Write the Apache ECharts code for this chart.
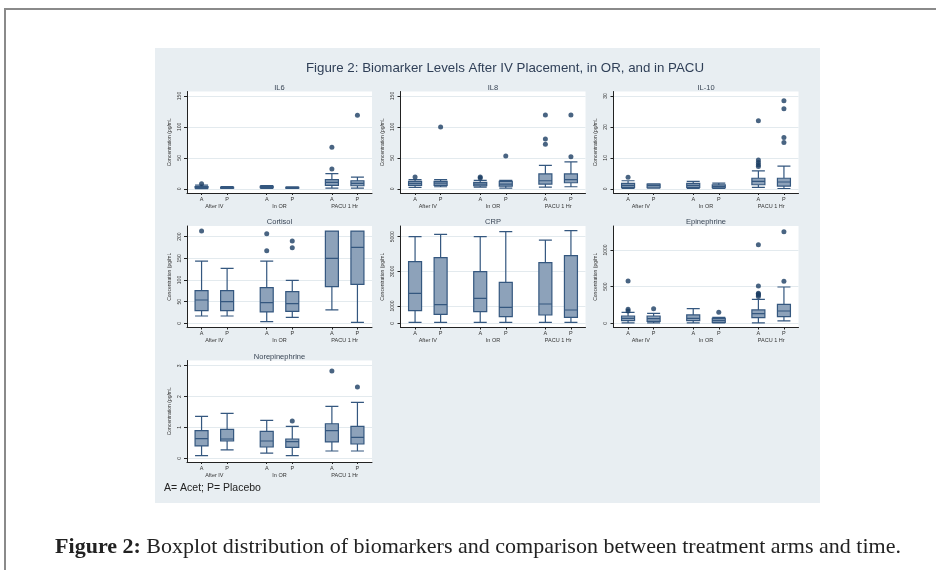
<!DOCTYPE html>
<html>
<head>
<meta charset="utf-8">
<script src="https://cdn.jsdelivr.net/npm/echarts@6/dist/echarts.min.js"></script>
<style>
  html, body { margin: 0; padding: 0; background: #fff; }
  #frame { position: absolute; left: 4px; top: 8px; width: 940px; height: 570px;
           border-top: 2px solid #8a8a8a; border-left: 2px solid #8a8a8a; }
  #chart { position: absolute; left: 0; top: 0; width: 936px; height: 570px; }
</style>
</head>
<body>
<div id="frame"></div>
<div id="chart"></div>
<script>
// categories
const arms = ["A", "P"];
const times = ["After IV", "In OR", "PACU 1 Hr"];

// boxes: [min, Q1, median, Q3, max], order A/After IV, P/After IV, A/In OR, P/In OR, A/PACU, P/PACU
// outliers: [box index, value]
const il6Box = [
  [0.3, 1.5, 2.3, 3.5, 6],
  [0.5, 1, 1.5, 2.5, 3.5],
  [0.8, 1.8, 2.8, 4, 5],
  [0.5, 1, 1.5, 2.5, 3],
  [1, 5.4, 10.3, 14.7, 24.5],
  [1, 4.9, 8.7, 13, 19],
];
const il6Out = [[0, 8], [4, 32], [4, 67], [5, 119]];
const il6Ticks = [0, 50, 100, 150];

const il8Box = [
  [2.2, 5.4, 8.7, 12, 14.7],
  [3.3, 5.4, 9.2, 12, 14.7],
  [2.7, 4.9, 7.6, 10.3, 13.6],
  [1, 4.3, 7.6, 12, 13.6],
  [2.7, 7.6, 13, 24, 38],
  [3.3, 9.8, 14.7, 24, 43.5],
];
const il8Out = [[0, 19], [1, 100], [2, 17.5], [2, 19], [3, 53], [4, 72], [4, 80.5], [4, 119.5], [5, 52], [5, 119.5]];
const il8Ticks = [0, 50, 100, 150];

const il10Box = [
  [0.1, 0.43, 1.1, 1.74, 2.6],
  [0.2, 0.33, 1.0, 1.5, 1.6],
  [0.1, 0.43, 1.1, 1.74, 2.4],
  [0.1, 0.33, 0.76, 1.3, 1.85],
  [0.43, 1.3, 2.4, 3.4, 5.8],
  [0.1, 0.87, 2.2, 3.4, 7.3],
];
const il10Out = [[0, 3.7], [4, 7.2], [4, 7.8], [4, 8.5], [4, 9.3], [4, 22], [5, 15], [5, 16.6], [5, 25.9], [5, 28.5]];
const il10Ticks = [0, 10, 20, 30];

const cortisolBox = [
  [16.9, 29.2, 53.8, 75.4, 143.8],
  [16.9, 29.2, 50, 75.4, 127],
  [3.8, 26.2, 47.7, 82.3, 143.8],
  [13.8, 27.7, 45.4, 73, 99.2],
  [30.8, 84.6, 150, 213, 213],
  [2.3, 90, 175.4, 213, 213],
];
const cortisolOut = [[0, 213], [2, 167.7], [2, 207], [3, 174.6], [3, 190]];
const cortisolTicks = [0, 50, 100, 150, 200];

const crpBox = [
  [58, 731, 1731, 3558, 5000],
  [58, 519, 1077, 3788, 5135],
  [58, 673, 1442, 2981, 5000],
  [58, 385, 923, 2365, 5288],
  [58, 481, 1115, 3500, 4808],
  [58, 346, 769, 3904, 5346],
];
const crpOut = [];
const crpTicks = [0, 1000, 3000, 5000];

const epiBox = [
  [5, 36, 68, 100, 150],
  [5, 27, 64, 100, 136],
  [5, 36, 68, 114, 200],
  [5, 14, 41, 68, 82],
  [5, 77, 132, 182, 327],
  [32, 91, 168, 259, 495],
];
const epiOut = [[0, 168], [0, 191], [0, 577], [1, 200], [3, 150], [4, 364], [4, 386], [4, 400], [4, 409], [4, 509], [4, 1073], [5, 573], [5, 1250]];
const epiTicks = [0, 500, 1000];

const norepiBox = [
  [0.086, 0.4, 0.636, 0.895, 1.36],
  [0.27, 0.56, 0.626, 0.94, 1.456],
  [0.17, 0.367, 0.561, 0.874, 1.23],
  [0.086, 0.356, 0.54, 0.626, 1.036],
  [0.237, 0.53, 0.895, 1.12, 1.68],
  [0.237, 0.464, 0.68, 1.036, 1.81],
];
const norepiOut = [[3, 1.21], [4, 2.83], [5, 2.31]];
const norepiTicks = [0, 1, 2, 3];

const panels = [
  { name: "IL6", box: il6Box, out: il6Out, ticks: il6Ticks, range: [-6.8, 157.3] },
  { name: "IL8", box: il8Box, out: il8Out, ticks: il8Ticks, range: [-6.8, 157.3] },
  { name: "IL-10", box: il10Box, out: il10Out, ticks: il10Ticks, range: [-1.36, 31.45] },
  { name: "Cortisol", box: cortisolBox, out: cortisolOut, ticks: cortisolTicks, range: [-9.7, 224.7] },
  { name: "CRP", box: crpBox, out: crpOut, ticks: crpTicks, range: [-242, 5618] },
  { name: "Epinephrine", box: epiBox, out: epiOut, ticks: epiTicks, range: [-57, 1327] },
  { name: "Norepinephrine", box: norepiBox, out: norepiOut, ticks: norepiTicks, range: [-0.12, 3.17] },
];

// layout of the Stata-like subplots
const rowTop = [91.5, 226, 360.5];
const colLeft = [187, 400.5, 613.5];
const plotW = 185, plotH = 101.5;
const GROUP_STEP = 2.55;
const xMin = -1.07, xMax = 6.17;
const xPos = (i) => Math.floor(i / 2) * GROUP_STEP + (i % 2 ? 0.5 : -0.5);
const boxX = [0, 1, 2, 3, 4, 5].map(xPos);
const groupX = times.map((t, g) => g * GROUP_STEP);

const boxFill = "#8da2ba";
const boxLine = "#34577f";
const dotColor = "#1b3d63";
const font = "Liberation Sans, Arial, sans-serif";

const grid = [], xAxis = [], yAxis = [], series = [];
const titles = [
  {
    text: "Figure 2: Biomarker Levels After IV Placement, in OR, and in PACU",
    left: 505, top: 62, textAlign: "center", padding: 0,
    textStyle: { fontFamily: font, fontSize: 13.3, fontWeight: "normal", color: "#2f3f57" },
  },
];

panels.forEach((p, k) => {
  const left = colLeft[k % 3], top = rowTop[Math.floor(k / 3)];
  grid.push({ left: left, top: top, width: plotW, height: plotH, show: true,
    backgroundColor: "#ffffff", borderWidth: 0 });
  titles.push({ text: p.name, left: left + plotW / 2, top: top - 8, textAlign: "center", padding: 0,
    textStyle: { fontFamily: font, fontSize: 7.5, fontWeight: "normal", color: "#3a4656" } });

  xAxis.push({
    type: "value", gridIndex: k, min: xMin, max: xMax, position: "bottom",
    axisLine: { show: true, onZero: false, lineStyle: { color: "#222", width: 1 } },
    axisTick: { show: true, length: 2, customValues: boxX, lineStyle: { color: "#222" } },
    axisLabel: { customValues: boxX, margin: 3, fontSize: 5.5, color: "#333", fontFamily: font,
      formatter: (v) => arms[boxX.findIndex((b) => Math.abs(b - v) < 1e-6) % 2] },
    splitLine: { show: false },
  });
  xAxis.push({
    type: "value", gridIndex: k, min: xMin, max: xMax, position: "bottom",
    axisLine: { show: false, onZero: false }, axisTick: { show: false },
    axisLabel: { customValues: groupX, margin: 10, fontSize: 5.5, color: "#333", fontFamily: font,
      formatter: (v) => times[Math.round(v / GROUP_STEP)] },
    splitLine: { show: false },
  });
  yAxis.push({
    type: "value", gridIndex: k, min: p.range[0], max: p.range[1],
    name: "Concentration (pg/mL", nameLocation: "middle", nameGap: 15, nameRotate: 90,
    nameTextStyle: { fontSize: 5, color: "#333", fontFamily: font },
    axisLine: { show: true, onZero: false, lineStyle: { color: "#222", width: 1 } },
    axisTick: { show: true, length: 3, customValues: p.ticks, lineStyle: { color: "#222" } },
    axisLabel: { customValues: p.ticks, rotate: 90, margin: 5, fontSize: 5, color: "#333", fontFamily: font,
      formatter: (v) => String(v) },
    splitLine: { show: true, lineStyle: { color: "#e3eaee", width: 1 } },
  });

  series.push({
    type: "boxplot", xAxisIndex: 2 * k, yAxisIndex: k,
    boxWidth: [13, 13],
    itemStyle: { color: boxFill, borderColor: boxLine, borderWidth: 1.2 },
    data: p.box.map((b, i) => [boxX[i]].concat(b)),
  });
  series.push({
    type: "scatter", xAxisIndex: 2 * k, yAxisIndex: k,
    symbolSize: 5, itemStyle: { color: dotColor },
    data: p.out.map((o) => [boxX[o[0]], o[1]]),
  });
});

titles.push({
  text: "A= Acet; P= Placebo", left: 164, top: 483, padding: 0,
  textStyle: { fontFamily: font, fontSize: 10.5, fontWeight: "normal", color: "#222" },
});
titles.push({
  text: "{b|Figure 2:} Boxplot distribution of biomarkers and comparison between treatment arms and time.",
  left: 478, top: 536, textAlign: "center", padding: 0,
  textStyle: {
    fontFamily: "Liberation Serif, serif", fontSize: 22, fontWeight: "normal", color: "#222",
    rich: { b: { fontFamily: "Liberation Serif, serif", fontSize: 22, fontWeight: "bold", color: "#222" } },
  },
});

const chart = echarts.init(document.getElementById("chart"), null, { renderer: "canvas" });
chart.setOption({
  animation: false,
  backgroundColor: "transparent",
  graphic: [{
    type: "rect", z: -10, silent: true,
    shape: { x: 155, y: 48, width: 665, height: 455 },
    style: { fill: "#e8eef2" },
  }],
  title: titles,
  grid: grid,
  xAxis: xAxis,
  yAxis: yAxis,
  series: series,
});
</script>
</body>
</html>
